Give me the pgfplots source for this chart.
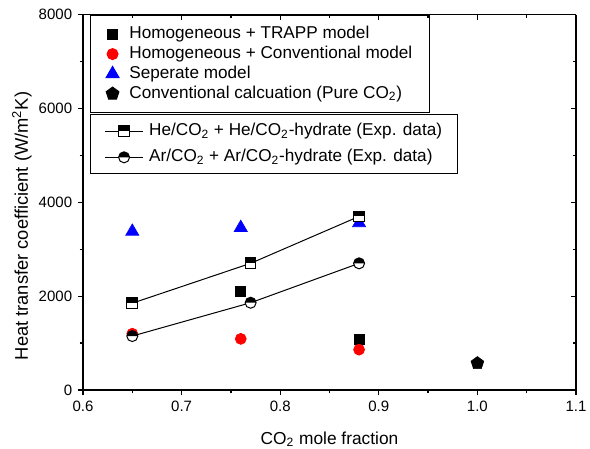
\documentclass[border=0pt]{standalone}
\usepackage{fontspec}
\setmainfont{Liberation Sans}
\usepackage{pgfplots}
\pgfplotsset{compat=1.18}

% half-filled marks (top half black)
\pgfdeclareplotmark{halfsquare}{%
  \pgfpathrectangle{\pgfqpoint{-\pgfplotmarksize}{-\pgfplotmarksize}}{\pgfqpoint{2\pgfplotmarksize}{2\pgfplotmarksize}}%
  \pgfsetfillcolor{white}\pgfusepathqfill
  \pgfpathrectangle{\pgfqpoint{-\pgfplotmarksize}{0pt}}{\pgfqpoint{2\pgfplotmarksize}{\pgfplotmarksize}}%
  \pgfsetfillcolor{black}\pgfusepathqfill
  \pgfpathrectangle{\pgfqpoint{-\pgfplotmarksize}{-\pgfplotmarksize}}{\pgfqpoint{2\pgfplotmarksize}{2\pgfplotmarksize}}%
  \pgfusepathqstroke
}
\pgfdeclareplotmark{halfcircle}{%
  \pgfpathcircle{\pgfpointorigin}{\pgfplotmarksize}%
  \pgfsetfillcolor{white}\pgfusepathqfill
  \pgfpathmoveto{\pgfqpoint{\pgfplotmarksize}{0pt}}%
  \pgfpatharc{0}{180}{\pgfplotmarksize}\pgfpathclose
  \pgfsetfillcolor{black}\pgfusepathqfill
  \pgfpathcircle{\pgfpointorigin}{\pgfplotmarksize}%
  \pgfusepathqstroke
}

\pgfplotsset{
  common/.style={
    scale only axis, width=295.8pt, height=225.2pt,
    xmin=0.6, xmax=1.1, ymin=0, ymax=8000,
    xtick={0.6,0.7,0.8,0.9,1.0,1.1}, ytick={0,2000,4000,6000,8000},
    minor x tick num=1, minor y tick num=1,
    major tick length=3pt, minor tick length=2pt,
    axis line style={line width=0.9pt},
    every tick/.style={black, line width=0.8pt},
  },
}

\begin{document}
\begin{tikzpicture}
\useasboundingbox (-49.8pt,-34.8pt) rectangle (304.2pt,234pt);
\begin{axis}[
    common,
    axis x line*=bottom, axis y line*=left, tick align=outside,
    xticklabel style={/pgf/number format/.cd, fixed, fixed zerofill, precision=1},
    yticklabel style={/pgf/number format/.cd, set thousands separator={}},
    /pgf/number format/assume math mode=true,
    tick label style={font=\fontsize{9}{11}\selectfont},
    xlabel={CO\textsubscript{2} mole fraction},
    ylabel={Heat transfer coefficient (W/m\textsuperscript{2}K)},
    xlabel style={at={(axis description cs:0.5,-0.144)}, anchor=base,
      font=\fontsize{10.4}{12.6}\selectfont},
    ylabel style={at={(axis description cs:-0.124,0.437)}, anchor=center,
      font=\fontsize{11}{13}\selectfont},
    legend style={at={(0.014,1)}, anchor=north west, draw=black,
      line width=0.6pt, fill=white, font=\fontsize{10.3}{12}\selectfont,
      inner xsep=4.5pt, inner ysep=5.5pt, row sep=0pt,
      nodes={inner ysep=1pt, inner xsep=5.5pt, text height=7.6pt, text depth=2.3pt}},
    legend cell align=left,
    legend image code/.code={
      \path (0pt,0pt) (12.8pt,0pt);
      \draw[mark repeat=2, mark phase=2] plot coordinates {(0pt,0pt) (8.5pt,0pt) (17pt,0pt)};},
]
% Homogeneous + TRAPP model
\addplot[only marks, mark=square*, mark size=3pt, black] coordinates {
    (0.76, 2100)
    (0.88, 1070)
};
\addlegendentry{Homogeneous + TRAPP model}
% Homogeneous + Conventional model
\addplot[only marks, mark=*, mark size=3.3pt, red] coordinates {
    (0.65, 1200)
    (0.76, 1090)
    (0.88, 860)
};
\addlegendentry{Homogeneous + Conventional model}
% Separate model
\addplot[only marks, mark=triangle*, mark size=4.5pt, blue] coordinates {
    (0.65, 3380)
    (0.76, 3460)
    (0.88, 3560)
};
\addlegendentry{Seperate model}
% pure CO2
\addplot[only marks, mark=pentagon*, mark size=4pt, black] coordinates {
    (1.0, 570)
};
\addlegendentry{Conventional calcuation (Pure CO\textsubscript{2})}
\end{axis}

\begin{axis}[
    common,
    axis x line*=top, axis y line*=right, tick align=inside,
    xticklabels={}, yticklabels={},
    legend style={at={(0.014,0.735)}, anchor=north west, draw=black,
      line width=0.6pt, fill=white, font=\fontsize{10.3}{12}\selectfont,
      inner xsep=8.5pt, inner ysep=3pt, row sep=1.6pt,
      nodes={inner sep=1pt, text height=8.5pt, text depth=3.5pt}},
    legend cell align=left,
    legend image code/.code={
      \path (0pt,0pt) (25.2pt,0pt);
      \draw[mark repeat=2, mark phase=2] plot coordinates {(0pt,0pt) (11.4pt,0pt) (22.8pt,0pt)};},
]
\addplot[black, line width=0.6pt, mark=halfsquare, mark size=3.2pt] coordinates {
    (0.65, 1850)
    (0.77, 2700)
    (0.88, 3700)
};
\addlegendentry{He/CO\textsubscript{2} + He/CO\textsubscript{2}-hydrate (Exp. data)}
\addplot[black, line width=0.6pt, mark=halfcircle, mark size=3.3pt] coordinates {
    (0.65, 1150)
    (0.77, 1860)
    (0.88, 2700)
};
\addlegendentry{Ar/CO\textsubscript{2} + Ar/CO\textsubscript{2}-hydrate (Exp. data)}
\end{axis}
\end{tikzpicture}
\end{document}
